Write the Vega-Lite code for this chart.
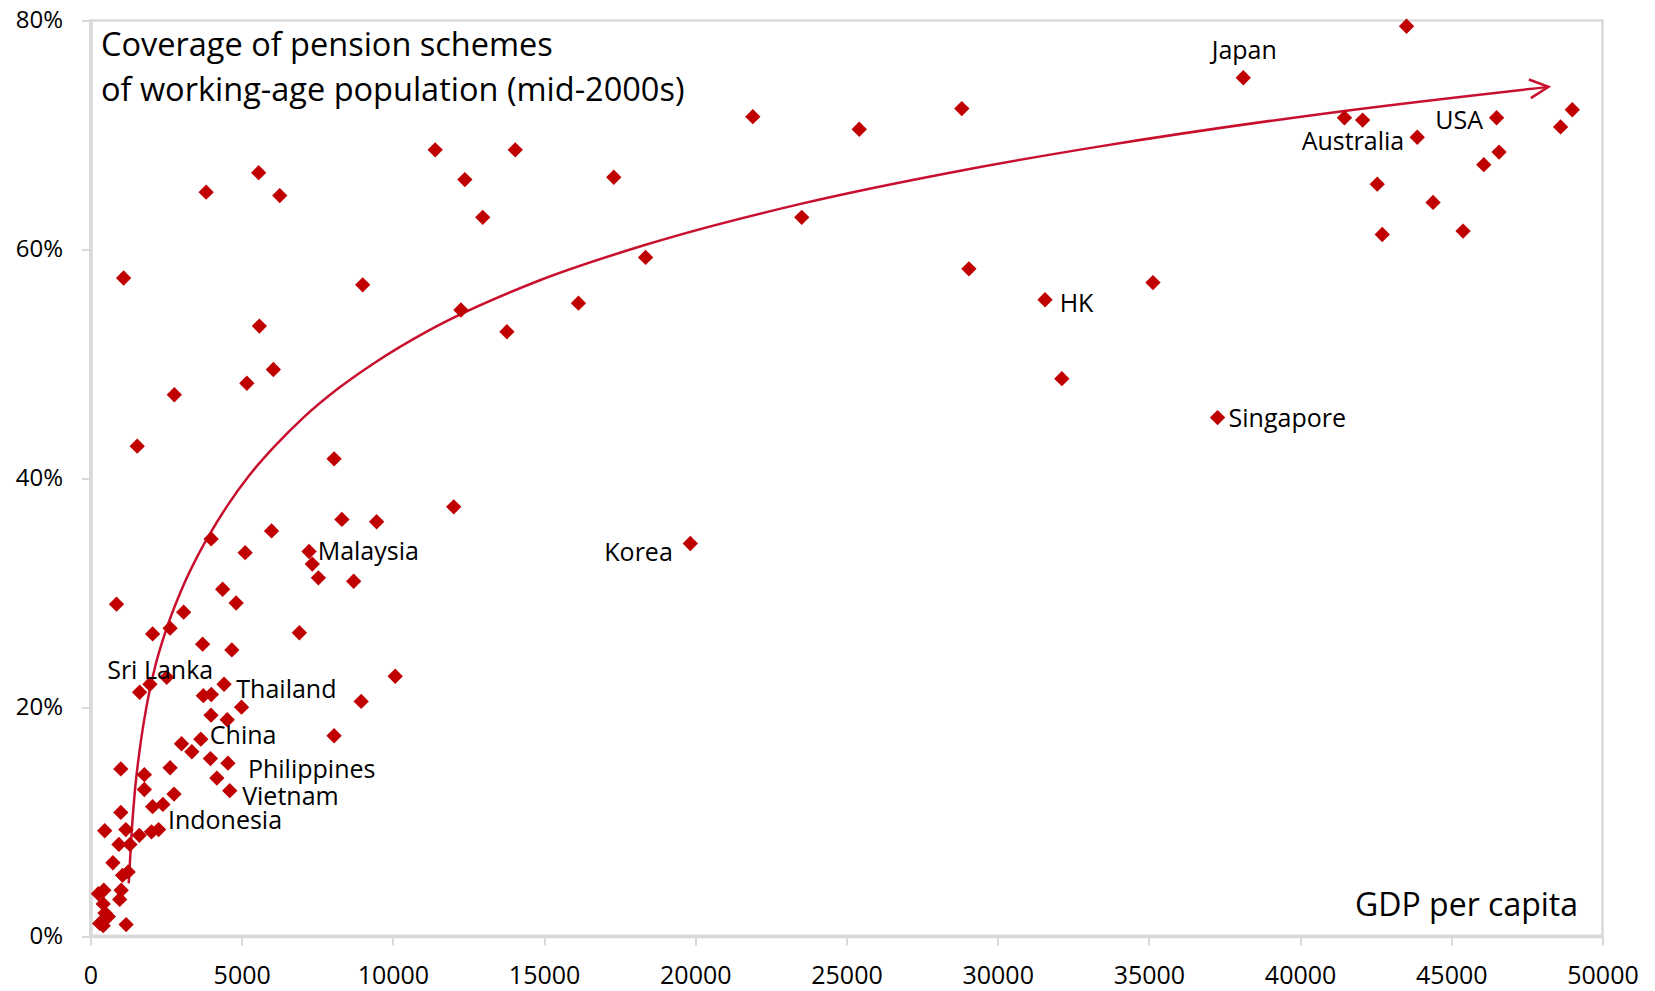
{
  "$schema": "https://vega.github.io/schema/vega-lite/v6.json",
  "width": 1512,
  "height": 915.5,
  "autosize": {"type": "none"},
  "padding": {"left": 90.5, "top": 20.5, "right": 52.5, "bottom": 55},
  "background": "white",
  "title": {
    "text": ["Coverage of pension schemes", "of working-age population (mid-2000s)"],
    "anchor": "start",
    "frame": "group",
    "orient": "top",
    "align": "left",
    "baseline": "alphabetic",
    "lineHeight": 45,
    "offset": -125,
    "dx": 10.5,
    "font": "Open Sans",
    "fontSize": 32.5,
    "fontWeight": "normal",
    "color": "#000000"
  },
  "config": {
    "view": {"stroke": "#d9d9d9", "strokeWidth": 2.5},
    "font": "Open Sans"
  },
  "datasets": {
    "points": [
      {"gdp": 43520, "cov": 79.5, "country": ""},
      {"gdp": 38121, "cov": 75.0, "country": "Japan"},
      {"gdp": 41466, "cov": 71.5, "country": ""},
      {"gdp": 42068, "cov": 71.3, "country": ""},
      {"gdp": 46497, "cov": 71.5, "country": "USA"},
      {"gdp": 49001, "cov": 72.2, "country": ""},
      {"gdp": 48614, "cov": 70.7, "country": ""},
      {"gdp": 43874, "cov": 69.8, "country": "Australia"},
      {"gdp": 46580, "cov": 68.5, "country": ""},
      {"gdp": 46074, "cov": 67.4, "country": ""},
      {"gdp": 42551, "cov": 65.7, "country": ""},
      {"gdp": 44397, "cov": 64.1, "country": ""},
      {"gdp": 42716, "cov": 61.3, "country": ""},
      {"gdp": 45389, "cov": 61.6, "country": ""},
      {"gdp": 35134, "cov": 57.1, "country": ""},
      {"gdp": 37271, "cov": 45.3, "country": "Singapore"},
      {"gdp": 32121, "cov": 48.7, "country": ""},
      {"gdp": 31565, "cov": 55.6, "country": "HK"},
      {"gdp": 19835, "cov": 34.3, "country": "Korea"},
      {"gdp": 21902, "cov": 71.6, "country": ""},
      {"gdp": 25422, "cov": 70.5, "country": ""},
      {"gdp": 28813, "cov": 72.3, "country": ""},
      {"gdp": 17304, "cov": 66.3, "country": ""},
      {"gdp": 23520, "cov": 62.8, "country": ""},
      {"gdp": 18356, "cov": 59.3, "country": ""},
      {"gdp": 29048, "cov": 58.3, "country": ""},
      {"gdp": 16136, "cov": 55.3, "country": ""},
      {"gdp": 11399, "cov": 68.7, "country": ""},
      {"gdp": 14046, "cov": 68.7, "country": ""},
      {"gdp": 12379, "cov": 66.1, "country": ""},
      {"gdp": 12971, "cov": 62.8, "country": ""},
      {"gdp": 1095, "cov": 57.5, "country": ""},
      {"gdp": 9001, "cov": 56.9, "country": ""},
      {"gdp": 12250, "cov": 54.7, "country": ""},
      {"gdp": 5585, "cov": 53.3, "country": ""},
      {"gdp": 13771, "cov": 52.8, "country": ""},
      {"gdp": 3824, "cov": 65.0, "country": ""},
      {"gdp": 5561, "cov": 66.7, "country": ""},
      {"gdp": 6259, "cov": 64.7, "country": ""},
      {"gdp": 6047, "cov": 49.5, "country": ""},
      {"gdp": 5170, "cov": 48.3, "country": ""},
      {"gdp": 2772, "cov": 47.3, "country": ""},
      {"gdp": 1545, "cov": 42.8, "country": ""},
      {"gdp": 8055, "cov": 41.7, "country": ""},
      {"gdp": 12011, "cov": 37.5, "country": ""},
      {"gdp": 8313, "cov": 36.4, "country": ""},
      {"gdp": 9461, "cov": 36.2, "country": ""},
      {"gdp": 5987, "cov": 35.4, "country": ""},
      {"gdp": 3990, "cov": 34.7, "country": ""},
      {"gdp": 5114, "cov": 33.5, "country": ""},
      {"gdp": 7228, "cov": 33.6, "country": "Malaysia"},
      {"gdp": 7334, "cov": 32.5, "country": ""},
      {"gdp": 7536, "cov": 31.3, "country": ""},
      {"gdp": 8703, "cov": 31.0, "country": ""},
      {"gdp": 4370, "cov": 30.3, "country": ""},
      {"gdp": 4816, "cov": 29.1, "country": ""},
      {"gdp": 860, "cov": 29.0, "country": ""},
      {"gdp": 3080, "cov": 28.3, "country": ""},
      {"gdp": 2054, "cov": 26.4, "country": ""},
      {"gdp": 2633, "cov": 26.9, "country": ""},
      {"gdp": 6907, "cov": 26.5, "country": ""},
      {"gdp": 3708, "cov": 25.5, "country": ""},
      {"gdp": 4674, "cov": 25.0, "country": ""},
      {"gdp": 10076, "cov": 22.7, "country": ""},
      {"gdp": 8952, "cov": 20.5, "country": ""},
      {"gdp": 8055, "cov": 17.5, "country": ""},
      {"gdp": 4416, "cov": 22.0, "country": "Thailand"},
      {"gdp": 3731, "cov": 21.0, "country": ""},
      {"gdp": 3995, "cov": 21.1, "country": ""},
      {"gdp": 4995, "cov": 20.0, "country": ""},
      {"gdp": 3985, "cov": 19.3, "country": ""},
      {"gdp": 4522, "cov": 18.9, "country": ""},
      {"gdp": 3649, "cov": 17.2, "country": "China"},
      {"gdp": 3010, "cov": 16.8, "country": ""},
      {"gdp": 3351, "cov": 16.1, "country": ""},
      {"gdp": 3966, "cov": 15.5, "country": ""},
      {"gdp": 4545, "cov": 15.1, "country": "Philippines"},
      {"gdp": 4178, "cov": 13.8, "country": ""},
      {"gdp": 4605, "cov": 12.7, "country": "Vietnam"},
      {"gdp": 2633, "cov": 14.7, "country": ""},
      {"gdp": 1002, "cov": 14.6, "country": ""},
      {"gdp": 1780, "cov": 14.1, "country": ""},
      {"gdp": 1780, "cov": 12.8, "country": ""},
      {"gdp": 2762, "cov": 12.4, "country": ""},
      {"gdp": 2054, "cov": 11.3, "country": ""},
      {"gdp": 2395, "cov": 11.5, "country": ""},
      {"gdp": 1002, "cov": 10.8, "country": ""},
      {"gdp": 2253, "cov": 9.3, "country": "Indonesia"},
      {"gdp": 2018, "cov": 9.1, "country": ""},
      {"gdp": 1614, "cov": 8.8, "country": ""},
      {"gdp": 1168, "cov": 9.3, "country": ""},
      {"gdp": 470, "cov": 9.2, "country": ""},
      {"gdp": 940, "cov": 8.0, "country": ""},
      {"gdp": 1305, "cov": 8.0, "country": ""},
      {"gdp": 741, "cov": 6.4, "country": ""},
      {"gdp": 1245, "cov": 5.6, "country": ""},
      {"gdp": 1060, "cov": 5.3, "country": ""},
      {"gdp": 1015, "cov": 4.0, "country": ""},
      {"gdp": 440, "cov": 4.0, "country": ""},
      {"gdp": 260, "cov": 3.7, "country": ""},
      {"gdp": 966, "cov": 3.2, "country": ""},
      {"gdp": 420, "cov": 2.8, "country": ""},
      {"gdp": 480, "cov": 2.0, "country": ""},
      {"gdp": 590, "cov": 1.7, "country": ""},
      {"gdp": 435, "cov": 1.4, "country": ""},
      {"gdp": 304, "cov": 1.1, "country": ""},
      {"gdp": 420, "cov": 0.9, "country": ""},
      {"gdp": 1178, "cov": 1.0, "country": ""},
      {"gdp": 1625, "cov": 21.3, "country": ""},
      {"gdp": 1965, "cov": 22.0, "country": ""},
      {"gdp": 2520, "cov": 22.6, "country": "Sri Lanka"}
    ],
    "curve": [
      {"gdp": 1264, "cov": 4.6},
      {"gdp": 1352, "cov": 8.7},
      {"gdp": 1462, "cov": 12.5},
      {"gdp": 1628, "cov": 16.3},
      {"gdp": 1849, "cov": 20.0},
      {"gdp": 2124, "cov": 23.4},
      {"gdp": 2533, "cov": 27.0},
      {"gdp": 3000, "cov": 30.2},
      {"gdp": 3500, "cov": 33.0},
      {"gdp": 3895, "cov": 34.9},
      {"gdp": 4500, "cov": 37.5},
      {"gdp": 5266, "cov": 40.3},
      {"gdp": 6093, "cov": 42.8},
      {"gdp": 7040, "cov": 45.3},
      {"gdp": 8220, "cov": 47.9},
      {"gdp": 9401, "cov": 50.1},
      {"gdp": 11175, "cov": 52.9},
      {"gdp": 14860, "cov": 57.3},
      {"gdp": 18356, "cov": 60.4},
      {"gdp": 23520, "cov": 64.0},
      {"gdp": 28813, "cov": 66.9},
      {"gdp": 33382, "cov": 69.0},
      {"gdp": 41466, "cov": 72.1},
      {"gdp": 48214, "cov": 74.2}
    ]
  },
  "encoding": {
    "x": {
      "field": "gdp",
      "type": "quantitative",
      "scale": {"domain": [0, 50000], "nice": false, "zero": true},
      "axis": {
        "values": [0, 5000, 10000, 15000, 20000, 25000, 30000, 35000, 40000, 45000, 50000],
        "format": "d",
        "grid": false,
        "labelFont": "Open Sans",
        "labelFontSize": 25,
        "labelColor": "#000000",
        "labelBaseline": "alphabetic",
        "labelPadding": 38,
        "labelFlush": false,
        "labelOverlap": false,
        "domainColor": "#d9d9d9",
        "domainWidth": 3.5,
        "tickColor": "#d9d9d9",
        "tickWidth": 2,
        "tickSize": 9,
        "title": "GDP per capita",
        "titleFont": "Open Sans",
        "titleFontSize": 32,
        "titleFontWeight": "normal",
        "titleColor": "#000000",
        "titleAlign": "right",
        "titleBaseline": "alphabetic",
        "titleX": 1487,
        "titleY": -21
      }
    },
    "y": {
      "field": "cov",
      "type": "quantitative",
      "scale": {"domain": [0, 80], "nice": false},
      "axis": {
        "values": [0, 20, 40, 60, 80],
        "labelExpr": "datum.value + '%'",
        "grid": false,
        "title": null,
        "labelFont": "Open Sans",
        "labelFontSize": 24,
        "labelColor": "#000000",
        "labelPadding": 19,
        "labelOverlap": false,
        "domainColor": "#d9d9d9",
        "domainWidth": 3.5,
        "tickColor": "#d9d9d9",
        "tickWidth": 2,
        "tickSize": 9
      }
    }
  },
  "layer": [
    {
      "data": {"name": "curve"},
      "mark": {"type": "line", "color": "#C8102E", "strokeWidth": 2.5, "interpolate": "monotone"}
    },
    {
      "data": {"name": "curve"},
      "transform": [{"filter": "datum.gdp > 48000"}],
      "mark": {"type": "point", "shape": "M-1,-0.5L0,0L-1,0.5", "size": 1400, "angle": -6, "filled": false, "color": "#C8102E", "stroke": "#C8102E", "strokeWidth": 2.5, "opacity": 1}
    },
    {
      "data": {"name": "points"},
      "mark": {"type": "point", "shape": "diamond", "size": 235, "filled": true, "color": "#C00000", "opacity": 1, "strokeWidth": 0}
    },
    {
      "data": {"name": "points"},
      "transform": [{"filter": "datum.country === 'Japan'"}],
      "mark": {"type": "text", "align": "center", "baseline": "alphabetic", "dx": 1, "dy": -19, "fontSize": 25, "font": "Open Sans", "color": "#000000"},
      "encoding": {"text": {"field": "country"}}
    },
    {
      "data": {"name": "points"},
      "transform": [{"filter": "datum.country === 'USA'"}],
      "mark": {"type": "text", "align": "right", "baseline": "alphabetic", "dx": -13.5, "dy": 11, "fontSize": 25, "font": "Open Sans", "color": "#000000"},
      "encoding": {"text": {"field": "country"}}
    },
    {
      "data": {"name": "points"},
      "transform": [{"filter": "datum.country === 'Australia'"}],
      "mark": {"type": "text", "align": "right", "baseline": "alphabetic", "dx": -13, "dy": 12.7, "fontSize": 25, "font": "Open Sans", "color": "#000000"},
      "encoding": {"text": {"field": "country"}}
    },
    {
      "data": {"name": "points"},
      "transform": [{"filter": "datum.country === 'Korea'"}],
      "mark": {"type": "text", "align": "right", "baseline": "alphabetic", "dx": -17.5, "dy": 17.3, "fontSize": 25, "font": "Open Sans", "color": "#000000"},
      "encoding": {"text": {"field": "country"}}
    },
    {
      "data": {"name": "points"},
      "transform": [{"filter": "datum.country === 'HK'"}],
      "mark": {"type": "text", "align": "left", "baseline": "alphabetic", "dx": 14.6, "dy": 12.4, "fontSize": 25, "font": "Open Sans", "color": "#000000"},
      "encoding": {"text": {"field": "country"}}
    },
    {
      "data": {"name": "points"},
      "transform": [{"filter": "datum.country === 'Singapore'"}],
      "mark": {"type": "text", "align": "left", "baseline": "alphabetic", "dx": 11, "dy": 9.6, "fontSize": 25, "font": "Open Sans", "color": "#000000"},
      "encoding": {"text": {"field": "country"}}
    },
    {
      "data": {"name": "points"},
      "transform": [{"filter": "datum.country === 'Malaysia'"}],
      "mark": {"type": "text", "align": "left", "baseline": "alphabetic", "dx": 8.6, "dy": 9, "fontSize": 25, "font": "Open Sans", "color": "#000000"},
      "encoding": {"text": {"field": "country"}}
    },
    {
      "data": {"name": "points"},
      "transform": [{"filter": "datum.country === 'Sri Lanka'"}],
      "mark": {"type": "text", "align": "center", "baseline": "alphabetic", "dx": -6.5, "dy": 2, "fontSize": 25, "font": "Open Sans", "color": "#000000"},
      "encoding": {"text": {"field": "country"}}
    },
    {
      "data": {"name": "points"},
      "transform": [{"filter": "datum.country === 'Thailand'"}],
      "mark": {"type": "text", "align": "left", "baseline": "alphabetic", "dx": 12.3, "dy": 13.3, "fontSize": 25, "font": "Open Sans", "color": "#000000"},
      "encoding": {"text": {"field": "country"}}
    },
    {
      "data": {"name": "points"},
      "transform": [{"filter": "datum.country === 'China'"}],
      "mark": {"type": "text", "align": "left", "baseline": "alphabetic", "dx": 9, "dy": 5, "fontSize": 25, "font": "Open Sans", "color": "#000000"},
      "encoding": {"text": {"field": "country"}}
    },
    {
      "data": {"name": "points"},
      "transform": [{"filter": "datum.country === 'Philippines'"}],
      "mark": {"type": "text", "align": "left", "baseline": "alphabetic", "dx": 20, "dy": 14.4, "fontSize": 25, "font": "Open Sans", "color": "#000000"},
      "encoding": {"text": {"field": "country"}}
    },
    {
      "data": {"name": "points"},
      "transform": [{"filter": "datum.country === 'Vietnam'"}],
      "mark": {"type": "text", "align": "left", "baseline": "alphabetic", "dx": 12.4, "dy": 14.3, "fontSize": 25, "font": "Open Sans", "color": "#000000"},
      "encoding": {"text": {"field": "country"}}
    },
    {
      "data": {"name": "points"},
      "transform": [{"filter": "datum.country === 'Indonesia'"}],
      "mark": {"type": "text", "align": "left", "baseline": "alphabetic", "dx": 9.3, "dy": -1, "fontSize": 25, "font": "Open Sans", "color": "#000000"},
      "encoding": {"text": {"field": "country"}}
    }
  ]
}
